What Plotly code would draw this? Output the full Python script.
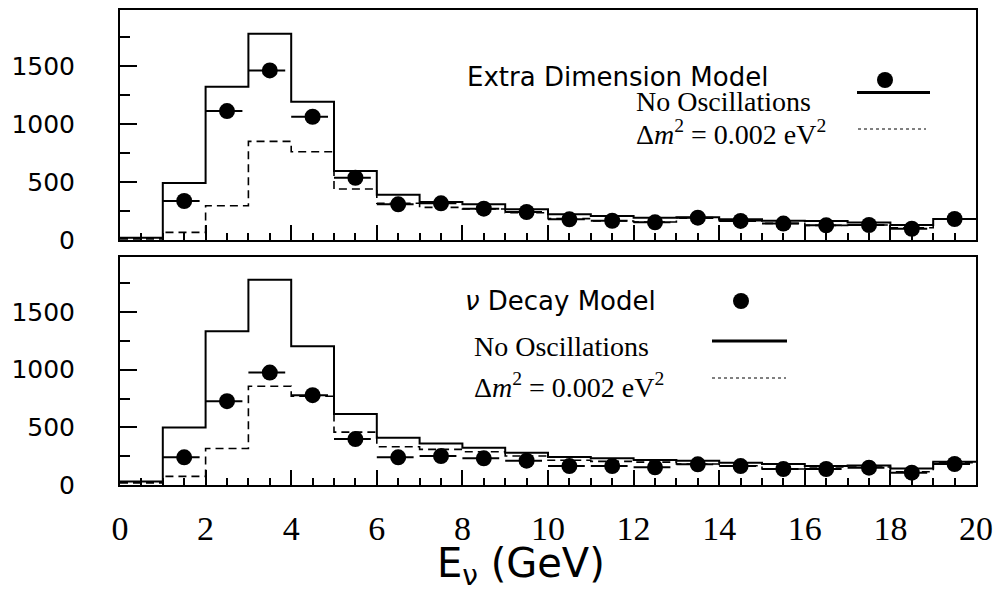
import numpy as np
import plotly.graph_objects as go

# Energy binning (GeV): 20 bins of 1 GeV
bin_edges = list(range(0, 21))

# Upper panel: extra dimension model
no_osc_top = [20, 490, 1320, 1775, 1190, 595, 390, 327, 307, 264,
              221, 207, 192, 195, 178, 166, 163, 150, 130, 181]
osc_top = [10, 66, 295, 849, 760, 439, 316, 281, 267, 235,
           184, 164, 155, 187, 166, 143, 126, 129, 106, 178]
extra_dim_pts = [336, 1110, 1460, 1061, 536, 307, 316, 270, 241, 178,
                 166, 152, 192, 164, 141, 126, 129, 97, 181]

# Lower panel: neutrino decay model
no_osc_bot = [30, 499, 1333, 1781, 1203, 615, 410, 361, 323, 280,
              242, 231, 216, 211, 193, 182, 164, 170, 144, 202]
osc_bot = [18, 75, 317, 857, 770, 459, 332, 309, 289, 251,
           215, 205, 198, 182, 167, 139, 156, 156, 115, 193]
decay_pts = [240, 727, 975, 779, 398, 240, 251, 231, 211, 164,
             164, 153, 179, 164, 139, 139, 150, 107, 182]

y_tick_vals = [0, 500, 1000, 1500]
y_tick_text = ["0", "500", "1000", "1500"]
x_tick_vals = list(range(0, 21, 2))
x_tick_text = [str(v) for v in x_tick_vals]

W, H = 996, 591


def fx(p):
    return p / W


def fy(p):
    return 1 - p / H


edges = np.array(bin_edges, dtype=float)
centers = (edges[:-1] + edges[1:]) / 2

fig = go.Figure()

panels = [
    ("x", "y", no_osc_top, osc_top, extra_dim_pts),
    ("x2", "y2", no_osc_bot, osc_bot, decay_pts),
]
for xa, ya, solid, dashed, pts in panels:
    fig.add_trace(go.Scatter(
        x=edges, y=list(solid) + [solid[-1]], mode="lines", line_shape="hv",
        line=dict(color="black", width=2), xaxis=xa, yaxis=ya, showlegend=False))
    fig.add_trace(go.Scatter(
        x=edges, y=list(dashed) + [dashed[-1]], mode="lines", line_shape="hv",
        line=dict(color="black", width=1.6, dash="8px,5px"),
        xaxis=xa, yaxis=ya, showlegend=False))
    fig.add_trace(go.Scatter(
        x=centers[1:], y=pts, mode="markers",
        marker=dict(color="black", size=16, symbol="circle"),
        error_x=dict(type="constant", value=0.36, valueminus=0.5, symmetric=False,
                     color="black", thickness=2, width=0),
        xaxis=xa, yaxis=ya, showlegend=False))

x_common = dict(
    range=[0, 20], showline=True, linewidth=2, linecolor="black", mirror=True,
    ticks="inside", ticklen=15, tickwidth=1.5, tickcolor="black",
    tickvals=x_tick_vals, ticktext=x_tick_text,
    minor=dict(ticks="inside", ticklen=7, tickwidth=1.5, tickcolor="black", dtick=0.5),
    showgrid=False, zeroline=False, domain=[fx(120), fx(976)], automargin=False,
)
y_common = dict(
    range=[0, 1980], showline=True, linewidth=2, linecolor="black", mirror=True,
    ticks="inside", ticklen=17, tickwidth=1.5, tickcolor="black",
    tickvals=y_tick_vals, ticktext=y_tick_text,
    tickfont=dict(family="DejaVu Sans", size=25, color="black"),
    ticklabelstandoff=38,
    minor=dict(ticks="inside", ticklen=10, tickwidth=1.5, tickcolor="black",
               tickvals=[250, 750, 1250, 1750]),
    showgrid=False, zeroline=False, automargin=False,
)

fig.update_layout(
    width=W, height=H, margin=dict(l=0, r=0, t=0, b=0, pad=0, autoexpand=False),
    paper_bgcolor="white", plot_bgcolor="white",
    xaxis=dict(**x_common, anchor="y", showticklabels=False),
    yaxis=dict(**y_common, anchor="x", domain=[fy(240), fy(10)]),
    xaxis2=dict(**x_common, anchor="y2", matches="x",
                tickfont=dict(family="Liberation Sans Narrow", size=34, color="black"),
                ticklabelstandoff=12),
    yaxis2=dict(**y_common, anchor="x2", domain=[fy(485), fy(256.7)]),
)

serif = dict(family="Liberation Serif", size=28, color="black")
sans = dict(family="DejaVu Sans", size=26, color="black")

annotations = [
    dict(x=fx(465), y=fy(77), text="Extra Dimension Model", font=sans),
    dict(x=fx(634), y=fy(102), text="No Oscillations", font=serif),
    dict(x=fx(634), y=fy(133), text="Δ<i>m</i><sup>2</sup> = 0.002 eV<sup>2</sup>", font=serif),
    dict(x=fx(463), y=fy(301), text="<i>ν</i> Decay Model", font=sans),
    dict(x=fx(472), y=fy(346), text="No Oscillations", font=serif),
    dict(x=fx(472), y=fy(385), text="Δ<i>m</i><sup>2</sup> = 0.002 eV<sup>2</sup>", font=serif),
]
for a in annotations:
    a.update(xref="paper", yref="paper", xanchor="left", yanchor="middle", showarrow=False)

annotations.append(dict(
    x=fx(521), y=fy(566), xref="paper", yref="paper", xanchor="center", yanchor="middle",
    showarrow=False, text="E<sub>ν</sub> (GeV)",
    font=dict(family="DejaVu Sans", size=40, color="black")))
fig.update_layout(annotations=annotations)

shapes = []
# legend dots
for cx, cy in [(885, 80), (741, 301)]:
    r = 8
    shapes.append(dict(type="circle", xref="paper", yref="paper",
                       x0=fx(cx - r), x1=fx(cx + r), y0=fy(cy + r), y1=fy(cy - r),
                       fillcolor="black", line=dict(color="black", width=0)))
# legend line samples
for x0, x1, yy in [(857, 930, 92.5), (712, 787, 341)]:
    shapes.append(dict(type="line", xref="paper", yref="paper",
                       x0=fx(x0), x1=fx(x1), y0=fy(yy), y1=fy(yy),
                       line=dict(color="black", width=3)))
for x0, x1, yy in [(858, 926, 129), (712, 786, 378)]:
    shapes.append(dict(type="line", xref="paper", yref="paper",
                       x0=fx(x0), x1=fx(x1), y0=fy(yy), y1=fy(yy),
                       line=dict(color="black", width=1, dash="dot")))
fig.update_layout(shapes=shapes)

fig.write_html("out.html")
